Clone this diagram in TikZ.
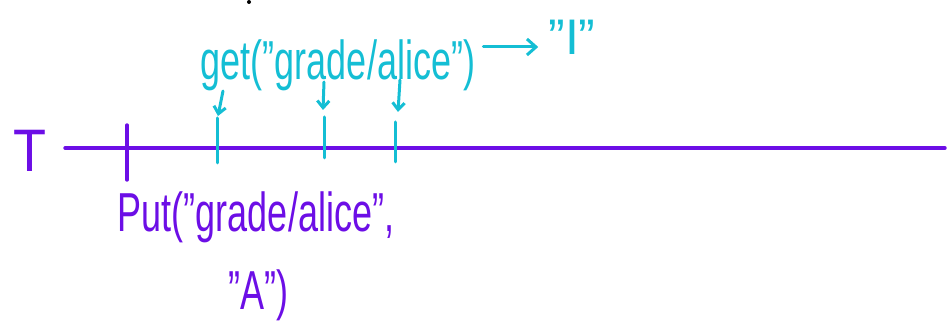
\documentclass[tikz,border=0pt]{standalone}
\usepackage{fontspec}
\setmainfont{Liberation Sans}
\usetikzlibrary{arrows.meta}
\definecolor{inkpurple}{RGB}{108,14,230}
\definecolor{inkcyan}{RGB}{20,190,212}
\newcommand{\hw}[1]{\scalebox{0.8}[1.22]{#1}}
\tikzset{
  hand/.style={font=\fontsize{45}{50}\selectfont, inner sep=0pt},
  purpleink/.style={draw=inkpurple, line width=3.4pt, line cap=round},
  cyanink/.style={draw=inkcyan, line width=3pt, line cap=round},
  downarr/.style={cyanink, -{Straight Barb[length=7pt,width=12pt]}},
}
\begin{document}
\begin{tikzpicture}[x=1pt,y=1pt]
\useasboundingbox (0,0) rectangle (949,323);
% stray dot
\fill[black] (249,321) circle (2);
% T label
\node[hand, text=inkpurple, font=\fontsize{60}{66}\selectfont, anchor=base] (T) at (30,151) {\scalebox{0.9}[1]{T}};
% timeline
\coordinate (lineS) at (65,175);
\coordinate (lineE) at (945,175);
\draw[purpleink] (lineS) -- (lineE);
% put tick
\coordinate (p1t) at (127,198);
\coordinate (p1b) at (127,143);
\draw[purpleink] (p1t) -- (p1b);
% get ticks
\coordinate (g1t) at (217,205); \coordinate (g1b) at (217,160);
\coordinate (g2t) at (324,206); \coordinate (g2b) at (324,165);
\coordinate (g3t) at (395,201); \coordinate (g3b) at (395,161);
\draw[cyanink] (g1t) -- (g1b);
\draw[cyanink] (g2t) -- (g2b);
\draw[cyanink] (g3t) -- (g3b);
% down arrows
\coordinate (a1s) at (223,232); \coordinate (a1e) at (218,207);
\coordinate (a2s) at (324,241); \coordinate (a2e) at (323,213);
\coordinate (a3s) at (400,243); \coordinate (a3e) at (398,211);
\draw[downarr] (a1s) -- (a1e);
\draw[downarr] (a2s) -- (a2e);
\draw[downarr] (a3s) -- (a3e);
% get text
\node[hand, text=inkcyan, anchor=base] (gettext) at (338,243) {\hw{get("grade/alice")}};
\node[hand, text=inkcyan, anchor=base, font=\fontsize{50}{55}\selectfont] (ival) at (572,268) {"I"};
\draw[cyanink, -{Straight Barb[length=9pt,width=16pt]}] ([xshift=8pt]gettext.east |- 0,276) -- ([xshift=-10pt]ival.west |- 0,276);
% put text
\node[hand, text=inkpurple, anchor=base] (put1) at (256,91) {\hw{Put("grade/alice",}};
\node[hand, text=inkpurple, anchor=base] (put2) at (258,13) {\hw{"A")}};
\end{tikzpicture}
\end{document}
